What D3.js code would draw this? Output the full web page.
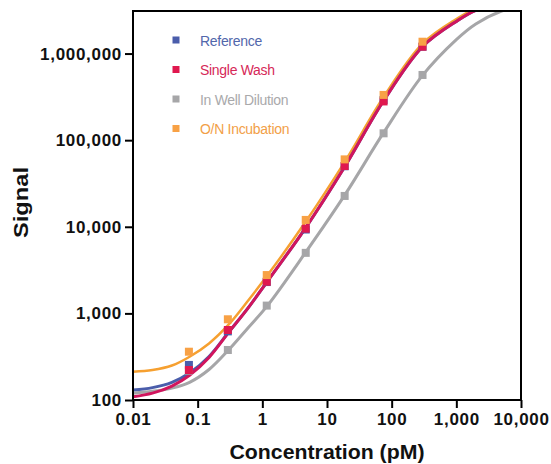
<!DOCTYPE html>
<html>
<head>
<meta charset="utf-8">
<script src="https://cdn.jsdelivr.net/npm/d3@7"></script>
<style>
  body { margin: 0; background: #fff; }
  text { font-family: "Liberation Sans", Arial, sans-serif; }
</style>
</head>
<body>
<div id="chart"></div>
<script>
// Measured concentrations (pM), 4-fold dilution series
var concentrations = [0.0732, 0.293, 1.17, 4.69, 18.75, 75, 300];

// Measured signal for each condition
var referenceSignal = [254, 620, 2300, 9300, 50000, 291000, 1200000];
var singleWashSignal = [222, 643, 2320, 9500, 50300, 280000, 1200000];
var inWellSignal = [218, 378, 1230, 5000, 22700, 120000, 566000];
var overnightSignal = [361, 855, 2770, 12000, 60000, 333000, 1370000];

// Fitted curves
var fitConc = [0.01, 0.02, 0.04, 0.075, 0.15, 0.3, 0.6, 1.2, 4.7, 19, 75, 300, 1000, 2000, 5000, 10000];
var referenceFit = [130, 139, 160, 205, 318, 605, 1150, 2350, 9800, 50000, 285000, 1200000, 2350000, 3150000, 3700000, 3900000];
var singleWashFit = [109, 120, 145, 193, 310, 600, 1150, 2350, 9800, 50000, 285000, 1200000, 2350000, 3150000, 3700000, 3900000];
var inWellFit = [120, 126, 137, 160, 225, 378, 680, 1230, 5100, 23500, 122000, 560000, 1450000, 2200000, 3100000, 3500000];
var overnightFit = [212, 222, 250, 316, 450, 740, 1400, 2750, 11500, 57000, 315000, 1300000, 2500000, 3300000, 3800000, 4000000];

// Tick values
var xTicks = [0.01, 0.1, 1, 10, 100, 1000, 10000];
var yTicks = [100, 1000, 10000, 100000, 1000000];

var seriesNames = ["Reference", "Single Wash", "In Well Dilution", "O/N Incubation"];
var pointColors = ["#4a5dab", "#e0184f", "#a6a6a8", "#f8a145"];
var lineColors = ["#4a5dab", "#d1155d", "#a6a6a8", "#f6a030"];
var textColors = ["#5267ab", "#d62858", "#a9a9ab", "#f2a048"];

var chartWidth = 551;
var chartHeight = 464;
var plotLeft = 133, plotRight = 521, plotTop = 11, plotBottom = 400;

var svg = d3.select("#chart")
  .append("svg")
  .attr("width", chartWidth)
  .attr("height", chartHeight);

// Scales
var xScale = d3.scaleLog()
  .domain([0.01, 10000])
  .range([plotLeft, plotRight]);

var yScale = d3.scaleLog()
  .domain([100, 3100000])
  .range([plotBottom, plotTop]);

// Clip for the fitted curves
svg.append("clipPath")
  .attr("id", "plot-clip")
  .append("rect")
  .attr("x", plotLeft)
  .attr("y", plotTop)
  .attr("width", plotRight - plotLeft)
  .attr("height", plotBottom - plotTop);

var line = d3.line()
  .x(function(d) { return xScale(d[0]); })
  .y(function(d) { return yScale(d[1]); })
  .curve(d3.curveCatmullRom.alpha(0.5));

var fits = [referenceFit, singleWashFit, inWellFit, overnightFit];
var points = [referenceSignal, singleWashSignal, inWellSignal, overnightSignal];

// Curves: gray, orange, blue, red
var curves = svg.append("g").attr("clip-path", "url(#plot-clip)");
[2, 3, 0, 1].forEach(function(i) {
  curves.append("path")
    .datum(fitConc.map(function(c, k) { return [c, fits[i][k]]; }))
    .attr("fill", "none")
    .attr("stroke", lineColors[i])
    .attr("stroke-width", i === 3 ? 2.5 : 3)
    .attr("d", line);
});

// Data points: gray, blue, red, orange
var size = 8;
[2, 0, 1, 3].forEach(function(i) {
  svg.append("g").selectAll("rect")
    .data(concentrations.map(function(c, k) { return [c, points[i][k]]; }))
    .enter()
    .append("rect")
    .attr("x", function(d) { return xScale(d[0]) - size / 2; })
    .attr("y", function(d) { return yScale(d[1]) - size / 2; })
    .attr("width", size)
    .attr("height", size)
    .attr("fill", pointColors[i]);
});

// Axes
var xAxis = svg.append("g")
  .attr("transform", "translate(0," + plotBottom + ")")
  .call(d3.axisBottom(xScale).tickValues(xTicks).tickFormat(d3.format(",")).tickSize(8).tickPadding(5));

var yAxis = svg.append("g")
  .attr("transform", "translate(" + plotLeft + ",0)")
  .call(d3.axisLeft(yScale).tickValues(yTicks).tickFormat(d3.format(",")).tickSize(8).tickPadding(3));

[xAxis, yAxis].forEach(function(ax) {
  ax.select(".domain").remove();
  ax.selectAll("line").attr("stroke", "#000").attr("stroke-width", 2);
  ax.selectAll("text")
    .attr("fill", "#111")
    .style("font-size", "17px")
    .style("font-weight", "bold")
    .style("letter-spacing", "0.7px");
});

// Frame
svg.append("rect")
  .attr("x", plotLeft)
  .attr("y", plotTop)
  .attr("width", plotRight - plotLeft)
  .attr("height", plotBottom - plotTop)
  .attr("fill", "none")
  .attr("stroke", "#000")
  .attr("stroke-width", 2);

// Axis titles
svg.append("text")
  .attr("x", (plotLeft + plotRight) / 2)
  .attr("y", 459)
  .attr("text-anchor", "middle")
  .attr("textLength", 195)
  .attr("lengthAdjust", "spacingAndGlyphs")
  .style("font-size", "20px")
  .style("font-weight", "bold")
  .attr("fill", "#111")
  .text("Concentration (pM)");

svg.append("text")
  .attr("transform", "translate(28," + ((plotTop + plotBottom) / 2 - 3) + ") rotate(-90)")
  .attr("text-anchor", "middle")
  .attr("textLength", 71)
  .attr("lengthAdjust", "spacingAndGlyphs")
  .style("font-size", "21px")
  .style("font-weight", "bold")
  .attr("fill", "#111")
  .text("Signal");

// Legend
var legend = svg.append("g");
seriesNames.forEach(function(name, i) {
  var ly = 40 + i * 29.5;
  legend.append("rect")
    .attr("x", 176 - 3.5)
    .attr("y", ly - 3.5)
    .attr("width", 7)
    .attr("height", 7)
    .attr("fill", pointColors[i]);
  legend.append("text")
    .attr("x", 200)
    .attr("y", ly + 1)
    .attr("dy", "0.35em")
    .attr("fill", textColors[i])
    .style("font-size", "14px")
    .style("letter-spacing", "-0.3px")
    .text(name);
});
</script>
</body>
</html>
